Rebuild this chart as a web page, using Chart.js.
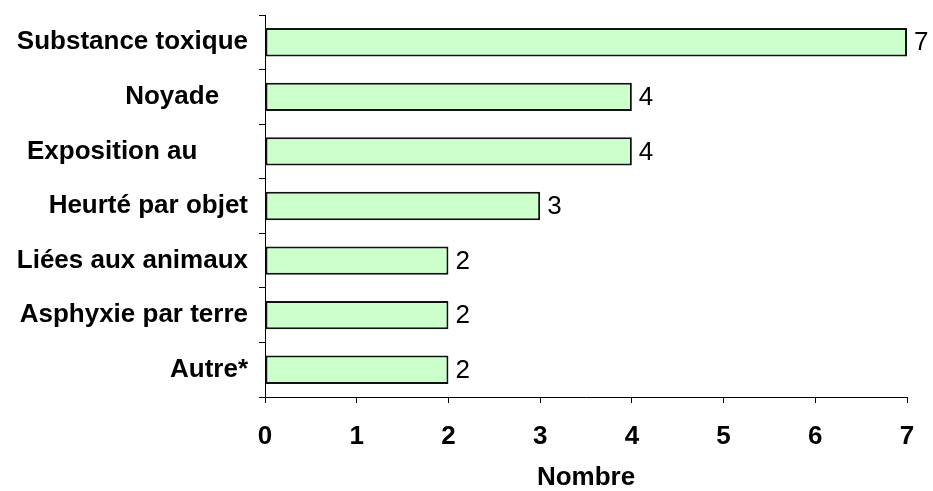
<!DOCTYPE html>
<html>
<head>
<meta charset="utf-8">
<script src="https://cdn.jsdelivr.net/npm/chart.js@4.4.1/dist/chart.umd.min.js"></script>
<style>
  html, body { margin: 0; padding: 0; background: #fff; }
</style>
</head>
<body>
<canvas id="myChart" width="933" height="491"></canvas>
<script>
// ------------ data -------------

const categories = [
  'Substance toxique',
  'Noyade',
  'Exposition au',
  'Heurté par objet',
  'Liées aux animaux',
  'Asphyxie par terre',
  'Autre*'
];
const counts = [7, 4, 4, 3, 2, 2, 2];
const xTicks = [0, 1, 2, 3, 4, 5, 6, 7];

// ------------ chart -------------

const fontFamily = '"Liberation Sans", Arial, sans-serif';
// a few labels sit left of the others in the original
const trailing = [0, 4, 7, 0, 0, 0, 0];

const valueLabels = {
  id: 'valueLabels',
  afterDatasetsDraw(chart) {
    const ctx = chart.ctx;
    const meta = chart.getDatasetMeta(0);
    ctx.save();
    ctx.font = '26px ' + fontFamily;
    ctx.fillStyle = '#000';
    ctx.textBaseline = 'middle';
    ctx.textAlign = 'left';
    meta.data.forEach(function (bar, i) {
      ctx.fillText(String(counts[i]), bar.x + 7, bar.y + 1);
    });
    ctx.restore();
  }
};

const data = {
  labels: categories,
  datasets: [{
    label: 'Nombre',
    data: counts,
    backgroundColor: '#CCFFCC',
    borderColor: '#111',
    borderWidth: 2,
    borderSkipped: false,
    barPercentage: 0.52,
    categoryPercentage: 1
  }]
};

const config = {
  type: 'bar',
  data: data,
  plugins: [valueLabels],
  options: {
    indexAxis: 'y',
    responsive: false,
    animation: false,
    devicePixelRatio: 1,
    layout: { padding: { top: 15, right: 26, left: 0, bottom: 0 } },
    plugins: {
      legend: { display: false },
      tooltip: { enabled: false }
    },
    scales: {
      y: {
        grid: { drawOnChartArea: false, color: '#000', tickLength: 6, offset: true },
        border: { color: '#000', width: 1 },
        ticks: {
          color: '#000',
          padding: 11,
          font: { family: fontFamily, size: 26, weight: 'bold' },
          callback: function (v, i) { return categories[i] + ' '.repeat(trailing[i]); }
        },
        afterFit: function (scale) {
          scale.width = 265;
          scale.paddingTop = 0;
          scale.paddingBottom = 0;
        }
      },
      x: {
        min: xTicks[0],
        max: xTicks[xTicks.length - 1],
        afterBuildTicks: function (scale) {
          scale.ticks = xTicks.map(function (v) { return { value: v }; });
        },
        grid: { drawOnChartArea: false, color: '#000', tickLength: 6 },
        border: { color: '#000', width: 1 },
        ticks: {
          color: '#000',
          padding: 18,
          font: { family: fontFamily, size: 26, weight: 'bold' }
        },
        title: {
          display: true,
          text: 'Nombre',
          color: '#000',
          padding: { top: 0, bottom: 0 },
          font: { family: fontFamily, size: 26, weight: 'bold', lineHeight: 1 }
        },
        afterFit: function (scale) {
          scale.height = 94;
          scale.paddingLeft = 0;
          scale.paddingRight = 0;
        }
      }
    }
  }
};

var myChart = new Chart(document.getElementById('myChart'), config);
</script>
</body>
</html>
